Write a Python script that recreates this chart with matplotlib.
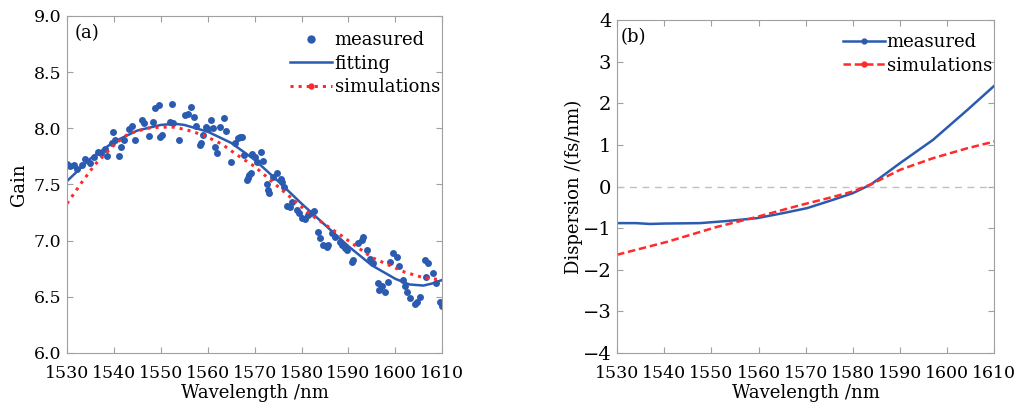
import numpy as np
import matplotlib.pyplot as plt
from matplotlib.lines import Line2D

plt.rcParams['font.family'] = ['DejaVu Serif']
plt.rcParams['mathtext.fontset'] = 'dejavuserif'

# (a) gain: measured points
wl_meas = [1530.0, 1530.6, 1531.5, 1532.1, 1533.2, 1533.8, 1534.9, 1535.8, 1536.6, 1537.3,
           1538.1, 1538.5, 1539.6, 1539.8, 1540.2, 1541.1, 1541.5, 1542.2, 1543.2, 1543.9,
           1544.5, 1546.0, 1546.4, 1547.5, 1548.3, 1548.8, 1549.6, 1549.8, 1550.3, 1552.0,
           1552.4, 1552.6, 1553.9, 1555.1, 1555.9, 1556.4, 1557.0, 1557.5, 1558.3, 1558.6,
           1559.0, 1559.6, 1560.0, 1560.6, 1561.1, 1561.5, 1561.9, 1562.6, 1563.5, 1563.9,
           1565.0, 1565.8, 1566.5, 1566.9, 1567.3, 1567.8, 1568.4, 1568.6, 1568.8, 1569.2,
           1569.5, 1570.1, 1570.5, 1571.4, 1571.8, 1572.7, 1572.9, 1573.1, 1574.0, 1574.8,
           1575.6, 1575.9, 1576.3, 1577.0, 1577.6, 1578.0, 1579.1, 1579.5, 1580.1, 1580.8,
           1581.4, 1582.1, 1582.7, 1583.5, 1584.0, 1584.6, 1585.5, 1585.7, 1586.5, 1587.2,
           1588.2, 1588.7, 1589.3, 1589.7, 1590.8, 1591.0, 1592.1, 1593.0, 1593.2, 1594.0,
           1594.6, 1595.3, 1596.3, 1596.6, 1597.2, 1597.9, 1598.5, 1598.9, 1599.6, 1600.4,
           1600.8, 1601.7, 1602.1, 1602.5, 1603.2, 1604.2, 1604.7, 1605.3, 1606.4, 1606.6,
           1607.0, 1608.1, 1608.7, 1609.6, 1609.9]
gain_meas = [7.68, 7.66, 7.67, 7.64, 7.67, 7.73, 7.69, 7.74, 7.79, 7.78,
             7.82, 7.75, 7.87, 7.97, 7.90, 7.75, 7.83, 7.90, 7.99, 8.02,
             7.90, 8.07, 8.05, 7.93, 8.06, 8.18, 8.21, 7.92, 7.94, 8.06,
             8.22, 8.05, 7.90, 8.12, 8.13, 8.19, 8.10, 8.02, 7.85, 7.87,
             7.94, 8.01, 7.99, 8.07, 8.00, 7.83, 7.78, 8.01, 8.09, 7.98,
             7.70, 7.87, 7.91, 7.92, 7.92, 7.76, 7.54, 7.56, 7.58, 7.60,
             7.77, 7.74, 7.70, 7.79, 7.71, 7.50, 7.45, 7.42, 7.57, 7.60,
             7.55, 7.52, 7.48, 7.31, 7.30, 7.34, 7.27, 7.25, 7.20, 7.19,
             7.23, 7.25, 7.26, 7.08, 7.02, 6.96, 6.94, 6.96, 7.07, 7.03,
             6.99, 6.96, 6.93, 6.92, 6.81, 6.83, 6.98, 7.01, 7.03, 6.92,
             6.84, 6.80, 6.62, 6.56, 6.60, 6.54, 6.63, 6.81, 6.89, 6.85,
             6.77, 6.65, 6.60, 6.54, 6.49, 6.44, 6.45, 6.50, 6.83, 6.68,
             6.80, 6.71, 6.62, 6.45, 6.42]

# (a) fitting curve and simulation
wl_fit = [1530, 1535, 1540, 1545, 1550, 1553, 1555, 1560, 1565, 1570, 1575, 1580,
          1585, 1590, 1595, 1600, 1603, 1606, 1608, 1610]
gain_fit = [7.53, 7.73, 7.88, 7.98, 8.03, 8.04, 8.03, 7.97, 7.87, 7.72, 7.53, 7.33,
            7.14, 6.95, 6.78, 6.66, 6.61, 6.60, 6.62, 6.65]
wl_sim = [1530, 1533, 1536, 1540, 1543, 1547, 1550, 1553, 1556, 1559, 1563, 1566,
          1570, 1575, 1582, 1589, 1595, 1602, 1606, 1610]
gain_sim = [7.33, 7.51, 7.68, 7.85, 7.95, 8.00, 8.01, 8.01, 7.98, 7.94, 7.86, 7.77,
            7.66, 7.48, 7.23, 7.03, 6.85, 6.72, 6.67, 6.65]

# (b) dispersion
wl_disp = [1530, 1534, 1537, 1540, 1547.6, 1553.3, 1559.7, 1565.2, 1570.3, 1575.8, 1580,
           1583.7, 1585.2, 1590, 1597, 1604.3, 1610]
disp_meas = [-0.88, -0.88, -0.90, -0.89, -0.88, -0.83, -0.76, -0.64, -0.52, -0.32, -0.16,
             0.04, 0.16, 0.56, 1.12, 1.84, 2.42]
wl_dsim = [1530, 1540.6, 1551.2, 1559.7, 1568.8, 1575.8, 1580, 1584, 1590, 1597, 1604.3, 1610]
disp_sim = [-1.64, -1.33, -0.97, -0.73, -0.45, -0.25, -0.12, 0.06, 0.40, 0.68, 0.92, 1.08]

blue = '#2b5bb0'
red = '#ff2a2a'
gray = '#a0a0a0'

fig = plt.figure(figsize=(10.25, 4.09), dpi=100)
ax1 = fig.add_axes([0.0654, 0.137, 0.366, 0.824])
ax2 = fig.add_axes([0.602, 0.137, 0.368, 0.814])

for ax in (ax1, ax2):
    for s in ax.spines.values():
        s.set_color(gray)
    ax.tick_params(direction='in', top=True, right=True, color=gray, labelsize=12.5,
                   length=4, pad=4)
    ax.tick_params(axis='x', pad=9)
    ax.set_xlim(1530, 1610)
    ax.set_xticks(np.arange(1530, 1611, 10))
    ax.set_xlabel('Wavelength /nm', fontsize=13, labelpad=1)

# panel (a)
ax1.plot(wl_meas, gain_meas, 'o', color=blue, ms=5, mec='none')
ax1.plot(wl_fit, gain_fit, '-', color=blue, lw=1.8)
ax1.plot(wl_sim, gain_sim, ':', color=red, lw=2.2)
ax1.set_ylim(6.0, 9.0)
ax1.set_yticks(np.arange(6.0, 9.01, 0.5))
ax1.set_yticklabels(['%.1f' % v for v in np.arange(6.0, 9.01, 0.5)])
ax1.set_ylabel('Gain', fontsize=13)
ax1.text(0.02, 0.975, '(a)', transform=ax1.transAxes, va='top', ha='left', fontsize=13)
h1 = [Line2D([], [], ls='none', marker='o', color=blue, ms=5),
      Line2D([], [], ls='-', color=blue, lw=1.8),
      Line2D([], [], ls=':', color=red, lw=2.2, marker='o', ms=3.5)]
ax1.legend(h1, ['measured', 'fitting', 'simulations'], loc='upper right', frameon=False,
           fontsize=13, numpoints=1, handlelength=2.3, handletextpad=0.15,
           labelspacing=0.3, borderaxespad=0, bbox_to_anchor=(1.013, 0.976))

# panel (b)
ax2.axhline(0, color='#c0c0c0', ls='--', lw=1.0, dashes=(5, 4))
ax2.plot(wl_disp, disp_meas, '-', color=blue, lw=1.8)
ax2.plot(wl_dsim, disp_sim, '--', color=red, lw=1.8, dashes=(3, 1.5))
ax2.set_ylim(-4, 4)
ax2.set_yticks(range(-4, 5))
ax2.tick_params(axis='y', labelsize=14)
ax2.set_ylabel('Dispersion /(fs/nm)', fontsize=13, labelpad=0)
ax2.text(0.01, 0.975, '(b)', transform=ax2.transAxes, va='top', ha='left', fontsize=13)
h2 = [Line2D([], [], ls='-', color=blue, lw=1.8, marker='o', ms=3.5),
      Line2D([], [], ls='--', color=red, lw=1.8, marker='o', ms=3.5, dashes=(3, 1.5))]
ax2.legend(h2, ['measured', 'simulations'], loc='upper right', frameon=False,
           fontsize=13, numpoints=1, handlelength=2.3, handletextpad=0.1,
           labelspacing=0.3, borderaxespad=0, bbox_to_anchor=(1.013, 0.982))

fig.savefig('out.png', dpi=100)
